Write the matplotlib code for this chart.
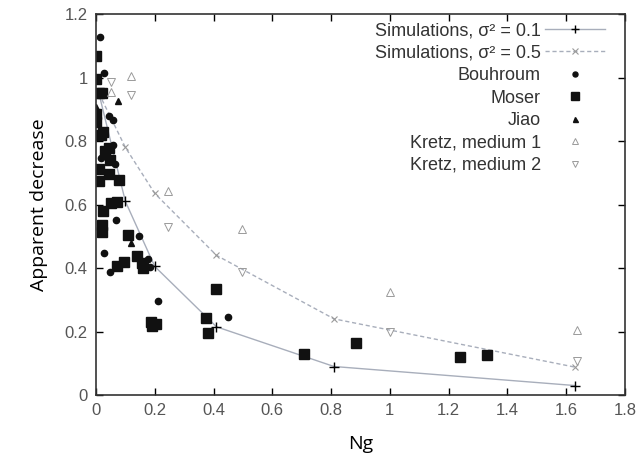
import matplotlib
matplotlib.use("Agg")
import matplotlib.pyplot as plt

# simulation curves
ng_sim = [0.01, 0.10, 0.20, 0.41, 0.81, 1.63]
sim_01 = [0.95, 0.61, 0.405, 0.215, 0.09, 0.03]
sim_05 = [0.95, 0.78, 0.635, 0.44, 0.24, 0.088]

# experimental data
bouhroum_x = [0.014, 0.027, 0.044, 0.058, 0.058, 0.017, 0.065, 0.068, 0.027,
              0.048, 0.146, 0.177, 0.184, 0.211, 0.449]
bouhroum_y = [1.128, 1.015, 0.879, 0.866, 0.787, 0.746, 0.728, 0.551, 0.447,
              0.387, 0.50, 0.428, 0.403, 0.296, 0.246]

moser_x = [0.0, 0.0, 0.01, 0.02, 0.0, 0.0, 0.024, 0.017, 0.03, 0.044, 0.048,
           0.01, 0.044, 0.01, 0.078, 0.051, 0.071, 0.024, 0.02, 0.02, 0.109,
           0.139, 0.156, 0.16, 0.095, 0.071, 0.187, 0.19, 0.205, 0.374, 0.381,
           0.408, 0.708, 0.884, 1.238, 1.33]
moser_y = [1.067, 0.995, 0.95, 0.95, 0.885, 0.86, 0.83, 0.82, 0.77, 0.778, 0.74,
           0.712, 0.696, 0.674, 0.677, 0.605, 0.608, 0.58, 0.535, 0.515, 0.504,
           0.438, 0.416, 0.40, 0.419, 0.406, 0.23, 0.217, 0.224, 0.243, 0.195,
           0.334, 0.129, 0.164, 0.12, 0.126]

jiao_x = [0.0, 0.075, 0.12]
jiao_y = [0.907, 0.926, 0.479]

kretz1_x = [0.05, 0.12, 0.245, 0.497, 1.0, 1.636]
kretz1_y = [0.955, 1.005, 0.643, 0.523, 0.324, 0.205]

kretz2_x = [0.05, 0.12, 0.245, 0.497, 1.0, 1.636]
kretz2_y = [0.985, 0.945, 0.529, 0.387, 0.20, 0.107]

line_col = '#a8aebb'
open_col = '#9a9a9a'

fig = plt.figure(figsize=(6.42, 4.67), dpi=100)
ax = fig.add_axes([0.1495, 0.154, 0.824, 0.816])

ax.plot(ng_sim, sim_01, '-', color=line_col, lw=1.0, marker='+', ms=7,
        mec='black', mew=1.0, label='Simulations, σ² = 0.1')
ax.plot(ng_sim, sim_05, '--', color=line_col, lw=1.0, marker='x', ms=5,
        mec=open_col, mew=0.8, dashes=(3, 2), label='Simulations, σ² = 0.5')
ax.plot(bouhroum_x, bouhroum_y, 'o', color='#111111', ms=4.5, ls='none', label='Bouhroum')
ax.plot(moser_x, moser_y, 's', color='#111111', ms=6.5, ls='none', label='Moser')
ax.plot(jiao_x, jiao_y, '^', color='#111111', ms=4.5, ls='none', label='Jiao')
ax.plot(kretz1_x, kretz1_y, '^', mfc='none', mec=open_col, mew=0.7, ms=6,
        ls='none', label='Kretz, medium 1')
ax.plot(kretz2_x, kretz2_y, 'v', mfc='none', mec=open_col, mew=0.7, ms=6,
        ls='none', label='Kretz, medium 2')

ax.set_xlim(0, 1.8)
ax.set_ylim(0, 1.2)
ax.set_xticks([0, 0.2, 0.4, 0.6, 0.8, 1, 1.2, 1.4, 1.6, 1.8])
ax.set_xticklabels(['0', '0.2', '0.4', '0.6', '0.8', '1', '1.2', '1.4', '1.6', '1.8'])
ax.set_yticks([0, 0.2, 0.4, 0.6, 0.8, 1, 1.2])
ax.set_yticklabels(['0', '0.2', '0.4', '0.6', '0.8', '1', '1.2'])
ax.tick_params(direction='in', top=True, right=True, length=5, width=1,
               labelsize=12, labelcolor='#555555', pad=6)
for lab in ax.get_xticklabels() + ax.get_yticklabels():
    lab.set_family('Liberation Sans')
for sp in ax.spines.values():
    sp.set_linewidth(1.2)
    sp.set_color('#333333')

ax.set_xlabel('Ng', fontsize=14, family='Open Sans', labelpad=12)
ax.set_ylabel('Apparent decrease', fontsize=14, family='Open Sans', labelpad=12)

# markerfirst=False right-aligns rows, so labels line up on the right
leg = ax.legend(loc='upper right', frameon=False, markerfirst=False,
                prop={'family': 'Liberation Sans', 'size': 13},
                handlelength=3.3, labelspacing=0.3, borderaxespad=0.0,
                handletextpad=0.25, borderpad=0.0, markerscale=0.8,
                bbox_to_anchor=(0.962, 0.978))
for t in leg.get_texts():
    t.set_color('#333333')

fig.savefig('out.png', dpi=100)
